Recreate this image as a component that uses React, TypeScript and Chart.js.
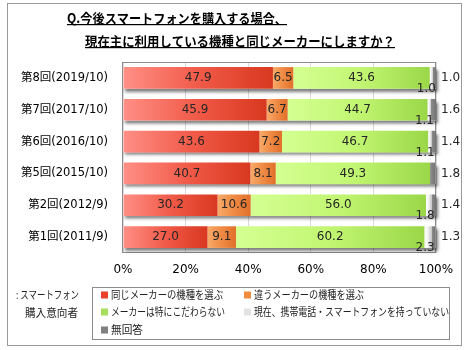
import React, { useEffect, useRef } from 'react';
import { Chart, registerables } from 'chart.js';

Chart.register(...registerables);

const CATEGORIES = ['第8回(2019/10)', '第7回(2017/10)', '第6回(2016/10)', '第5回(2015/10)', '第2回(2012/9)', '第1回(2011/9)'];
const SAME_MAKER = [47.9, 45.9, 43.6, 40.7, 30.2, 27.0];
const OTHER_MAKER = [6.5, 6.7, 7.2, 8.1, 10.6, 9.1];
const NO_PREFERENCE = [43.6, 44.7, 46.7, 49.3, 56.0, 60.2];
const NO_PHONE = [1.0, 1.1, 1.1, 0, 1.8, 2.3];
const NO_ANSWER = [1.0, 1.6, 1.4, 1.8, 1.4, 1.3];

const SERIES_NAMES = [
  '同じメーカーの機種を選ぶ',
  '違うメーカーの機種を選ぶ',
  'メーカーは特にこだわらない',
  '現在、携帯電話・スマートフォンを持っていない',
  '無回答',
];
const X_TICKS = [0, 20, 40, 60, 80, 100];
const TITLE_LINES = ['Q.今後スマートフォンを購入する場合、', '現在主に利用している機種と同じメーカーにしますか？'];
const BASE_LABEL = [': スマートフォン', '購入意向者'];

const SERIES = [SAME_MAKER, OTHER_MAKER, NO_PREFERENCE, NO_PHONE, NO_ANSWER];

const GRADIENTS = [
  ['#ff8f86', '#f15b49', '#d8381f'],
  ['#f8ab6a', '#ef8a44', '#e1702a'],
  ['#d4ff92', '#c2f672', '#9ad748'],
  ['#ffffff', '#f2f2f2', '#c4c4c4'],
  ['#8c8c8c', '#808080', '#727272'],
];
const SWATCHES = ['#e8412c', '#f08c3c', '#a6df5c', '#e2e2e2', '#808080'];

const FONT_LATIN = "'DejaVu Sans', 'Noto Sans CJK JP', sans-serif";
const FONT_JP = "'Noto Sans CJK JP', sans-serif";

function segColor(d: number) {
  return (c: any) => {
    const chart = c.chart;
    const xs = chart.scales && chart.scales.x;
    if (!xs || c.type !== 'data') return SWATCHES[d];
    const i = c.dataIndex;
    let start = 0;
    for (let k = 0; k < d; k++) start += SERIES[k][i];
    const end = start + SERIES[d][i];
    const x0 = xs.getPixelForValue(start);
    const x1 = xs.getPixelForValue(end);
    if (!isFinite(x0) || !isFinite(x1) || x1 - x0 < 0.5) return SWATCHES[d];
    const g = chart.ctx.createLinearGradient(x0, 0, x1, 0);
    g.addColorStop(0, GRADIENTS[d][0]);
    g.addColorStop(0.5, GRADIENTS[d][1]);
    g.addColorStop(1, GRADIENTS[d][2]);
    return g;
  };
}

const decorPlugin = {
  id: 'decor',
  beforeDatasetsDraw(chart: any) {
    const { ctx, chartArea } = chart;
    const xs = chart.scales.x;
    ctx.save();
    // plot frame
    ctx.strokeStyle = '#8c8c8c';
    ctx.lineWidth = 1;
    ctx.strokeRect(Math.round(chartArea.left) - 0.5, Math.round(chartArea.top) + 0.5,
      Math.round(chartArea.right - chartArea.left), Math.round(chartArea.bottom - chartArea.top) - 1);
    // bar shadows
    const meta = chart.getDatasetMeta(0);
    meta.data.forEach((el: any, i: number) => {
      const p = el.getProps(['y', 'height'], true);
      let total = 0;
      SERIES.forEach((s) => (total += s[i]));
      const x0 = xs.getPixelForValue(0);
      const x1 = xs.getPixelForValue(total);
      ctx.save();
      ctx.shadowColor = 'rgba(0,0,0,0.5)';
      ctx.shadowBlur = 3;
      ctx.shadowOffsetX = 2;
      ctx.shadowOffsetY = 3;
      ctx.fillStyle = '#ffffff';
      ctx.fillRect(x0, p.y - p.height / 2, x1 - x0, p.height);
      ctx.restore();
    });
    ctx.restore();
  },
  afterDatasetsDraw(chart: any) {
    const { ctx, chartArea } = chart;
    ctx.save();
    ctx.font = `12px ${FONT_LATIN}`;
    ctx.fillStyle = '#262626';
    ctx.textBaseline = 'middle';
    for (let d = 0; d < SERIES.length; d++) {
      const meta = chart.getDatasetMeta(d);
      meta.data.forEach((el: any, i: number) => {
        const v = SERIES[d][i];
        if (!(v > 0)) return;
        const p = el.getProps(['x', 'y', 'base'], true);
        const txt = v.toFixed(1);
        if (d <= 2) {
          ctx.textAlign = 'center';
          ctx.fillText(txt, (p.x + p.base) / 2, p.y);
        } else if (d === 3) {
          ctx.textAlign = 'right';
          ctx.fillText(txt, Math.max(p.x, p.base) + 3, p.y + 11);
        } else {
          ctx.textAlign = 'left';
          ctx.fillText(txt, chartArea.right + 5, p.y);
        }
      });
    }
    ctx.restore();
  },
  afterDraw(chart: any) {
    const { ctx } = chart;
    ctx.save();
    // outer frame
    ctx.strokeStyle = '#999999';
    ctx.lineWidth = 1;
    ctx.strokeRect(7.5, 3.5, 454, 342);
    // title
    ctx.fillStyle = '#000000';
    ctx.textBaseline = 'middle';
    ctx.textAlign = 'left';
    ctx.font = `bold 13px ${FONT_JP}`;
    const t1w = Math.min(ctx.measureText(TITLE_LINES[0]).width, 220);
    ctx.fillText(TITLE_LINES[0], 67, 18, 220);
    ctx.fillRect(67, 24, t1w, 1.2);
    const t2w = Math.min(ctx.measureText(TITLE_LINES[1]).width, 310);
    ctx.fillText(TITLE_LINES[1], 85, 41, 310);
    ctx.fillRect(85, 47, t2w, 1.2);
    // legend box
    ctx.strokeStyle = '#8c8c8c';
    ctx.strokeRect(92.5, 287.5, 357, 52);
    ctx.font = `11px ${FONT_JP}`;
    ctx.fillStyle = '#222222';
    ctx.fillText(BASE_LABEL[0], 16, 295, 63);
    ctx.fillText(BASE_LABEL[1], 25, 313, 53);
    const pos = [
      [101, 295, 112],
      [244, 295, 110],
      [101, 312, 114],
      [244, 312, 195],
      [101, 330, 32],
    ];
    SERIES_NAMES.forEach((name, k) => {
      const [x, y, w] = pos[k];
      ctx.fillStyle = SWATCHES[k];
      ctx.fillRect(x, y - 3.5, 7, 7);
      ctx.fillStyle = '#222222';
      ctx.fillText(name, x + 10, y, w);
    });
    ctx.restore();
  },
};

export default function App() {
  const ref = useRef<HTMLCanvasElement>(null);
  useEffect(() => {
    if (!ref.current) return;
    const chart = new Chart(ref.current, {
      type: 'bar',
      data: {
        labels: CATEGORIES,
        datasets: SERIES.map((s, d) => ({
          label: SERIES_NAMES[d],
          data: s,
          backgroundColor: segColor(d),
          borderWidth: 0,
          barPercentage: 0.68,
          categoryPercentage: 1,
        })),
      },
      options: {
        indexAxis: 'y',
        responsive: false,
        animation: false,
        events: [],
        layout: { padding: { top: 62, right: 34, left: 0, bottom: 0 } },
        plugins: { legend: { display: false }, title: { display: false }, tooltip: { enabled: false } },
        scales: {
          x: {
            stacked: true,
            min: 0,
            max: 100,
            afterFit: (s: any) => { s.height = 97; },
            afterBuildTicks: (s: any) => { s.ticks = X_TICKS.map((v) => ({ value: v })); },
            ticks: {
              callback: (v: any) => `${v}%`,
              font: { family: FONT_LATIN, size: 12 },
              color: '#000000',
              padding: 10,
              maxRotation: 0,
            },
            grid: { color: '#d9d9d9', drawTicks: false },
            border: { display: false },
          },
          y: {
            stacked: true,
            afterFit: (s: any) => { s.width = 123; },
            ticks: {
              font: { family: FONT_LATIN, size: 11.5 },
              color: '#000000',
              padding: 15,
            },
            grid: { display: false, drawTicks: false },
            border: { display: false },
          },
        },
      },
      plugins: [decorPlugin],
    } as any);
    return () => chart.destroy();
  }, []);
  return (
    <div style={{ position: 'absolute', left: 0, top: 0, width: 470, height: 350, background: '#ffffff' }}>
      <canvas ref={ref} width={470} height={350} style={{ display: 'block', width: 470, height: 350 }} />
    </div>
  );
}
